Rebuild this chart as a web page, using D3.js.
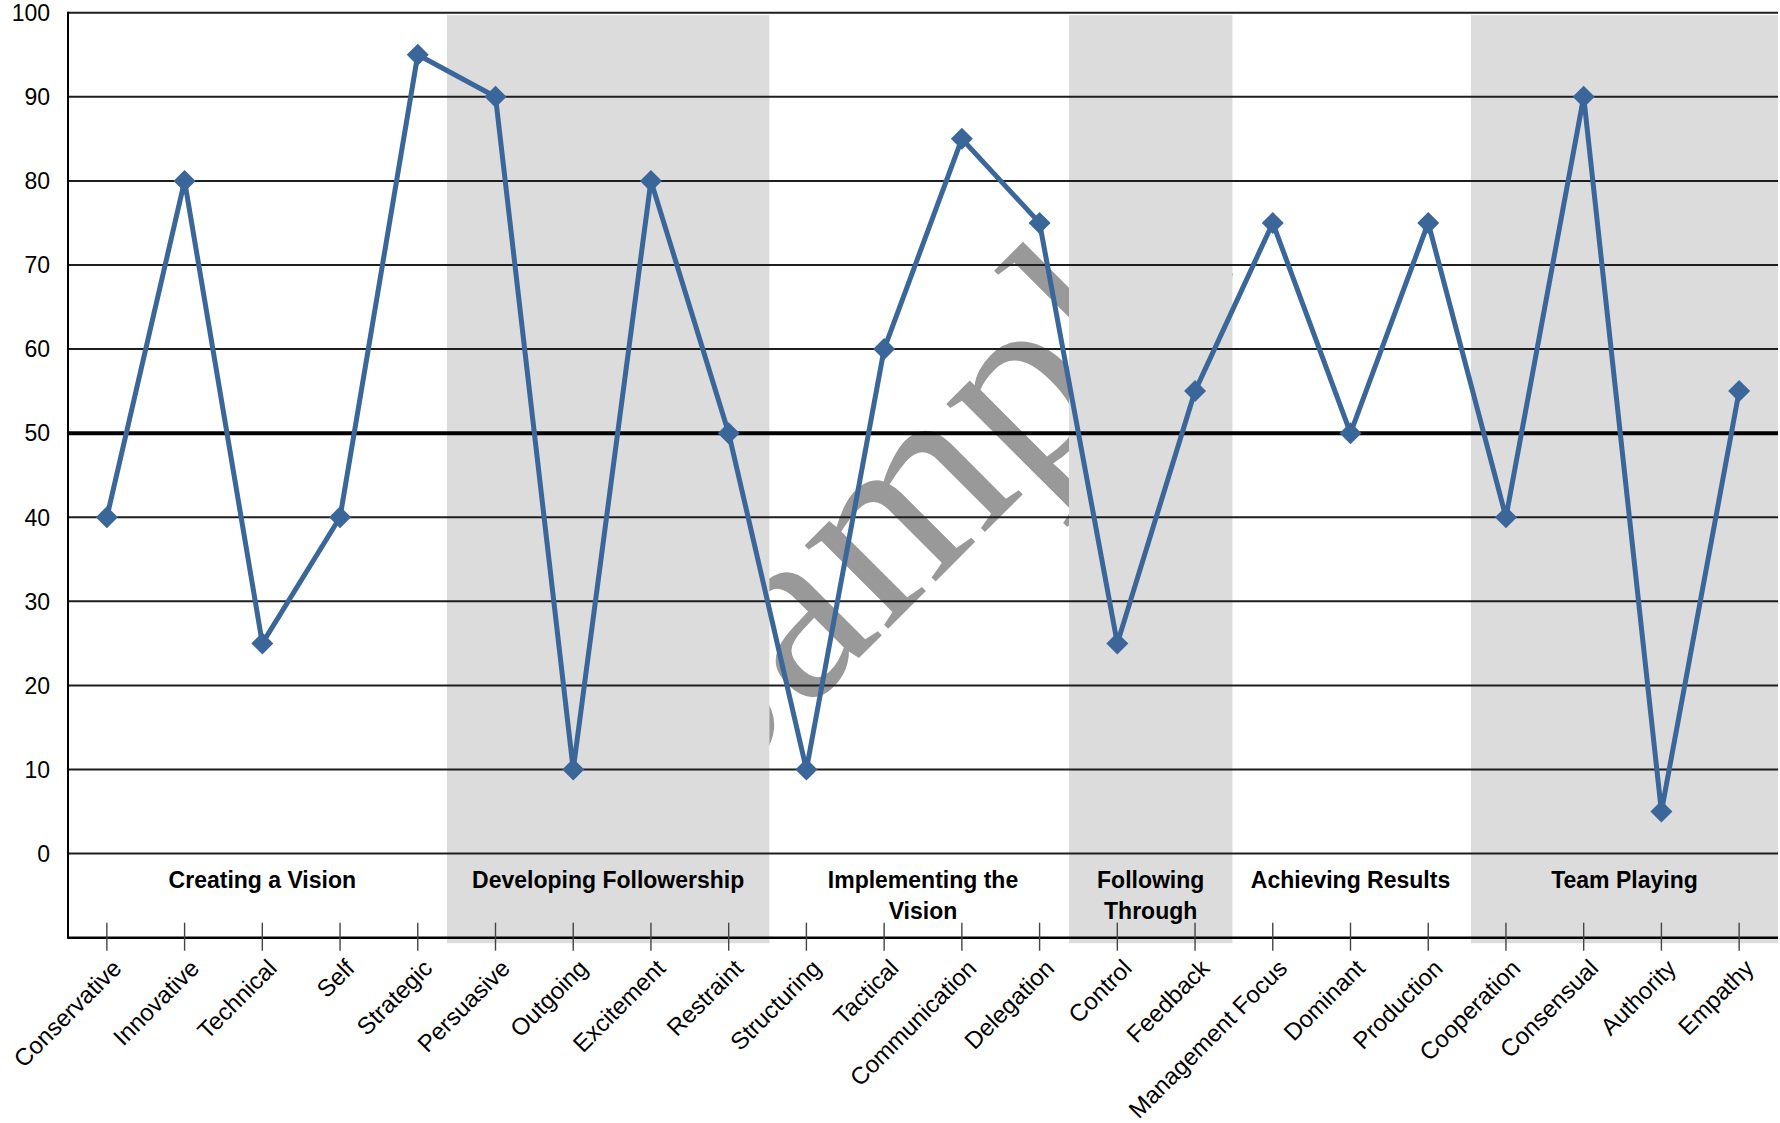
<!DOCTYPE html>
<html>
<head>
<meta charset="utf-8">
<script src="https://cdn.jsdelivr.net/npm/d3@7"></script>
<style>
  body { margin: 0; background: #fff; }
  svg { display: block; font-family: "Liberation Sans", Arial, sans-serif; }
</style>
</head>
<body>
<svg id="chart" width="1780" height="1123"></svg>
<script>
// data
const categories = ["Conservative", "Innovative", "Technical", "Self", "Strategic",
  "Persuasive", "Outgoing", "Excitement", "Restraint",
  "Structuring", "Tactical", "Communication", "Delegation",
  "Control", "Feedback",
  "Management Focus", "Dominant", "Production",
  "Cooperation", "Consensual", "Authority", "Empathy"];
const scores = [40, 80, 25, 40, 95, 90, 10, 80, 50, 10, 60, 85, 75, 25, 55, 75, 50, 75, 40, 90, 5, 55];
const groupLabels = [["Creating a Vision"], ["Developing Followership"], ["Implementing the", "Vision"],
  ["Following", "Through"], ["Achieving Results"], ["Team Playing"]];
const groupSizes = [5, 4, 4, 2, 3, 4];
const yTicks = [0, 10, 20, 30, 40, 50, 60, 70, 80, 90, 100];
const midline = 50;

const svg = d3.select("#chart");
const mLeft = 68, mRight = 1778, mTop = 12.7, mBottom = 937.7;

const x = d3.scaleBand().domain(categories).range([mLeft, mRight]);
const y = d3.scaleLinear().domain([-10, 100]).range([mBottom, mTop]);
const cx = d => x(d) + x.bandwidth() / 2;
// category index -> pixel (for the hand-drawn shading edges)
const xi = d3.scaleLinear().domain([-0.5, categories.length - 0.5]).range([mLeft, mRight]);

// shaded boxes were drawn by hand, edges sit a bit off the category boundaries
const shadeEdges = { 1: [4.375, 8.524], 3: [12.378, 14.481], 5: [17.549, 21.5] };

let acc = 0;
const groups = groupSizes.map((n, i) => {
  const g = { i, from: acc, to: acc + n - 1, lines: groupLabels[i] };
  acc += n;
  return g;
});
const gMid = g => shadeEdges[g.i]
  ? (xi(shadeEdges[g.i][0]) + xi(shadeEdges[g.i][1])) / 2
  : (cx(categories[g.from]) + cx(categories[g.to])) / 2;

// watermark (sits under the shaded bands)
svg.append("text")
    .attr("transform", "translate(702.6,814.4) rotate(-45)")
    .attr("font-family", "'Liberation Serif', 'Times New Roman', serif")
    .attr("font-size", 257)
    .attr("fill", "#999")
    .text("Sample");

// shaded bands on every other group
svg.append("g")
  .selectAll("rect")
  .data(groups.filter(g => shadeEdges[g.i]))
  .enter().append("rect")
    .attr("x", g => xi(shadeEdges[g.i][0]))
    .attr("y", mTop + 2.5)
    .attr("width", g => xi(shadeEdges[g.i][1]) - xi(shadeEdges[g.i][0]))
    .attr("height", mBottom + 5.5 - mTop - 2.5)
    .attr("fill", "#dcdcdc");

// gridlines
svg.append("g")
  .selectAll("line")
  .data(yTicks)
  .enter().append("line")
    .attr("x1", mLeft).attr("x2", mRight)
    .attr("y1", d => y(d)).attr("y2", d => y(d))
    .attr("stroke", d => d === midline ? "#000" : "#1e1e1e")
    .attr("stroke-width", d => d === midline ? 4 : 2);

// y labels
svg.append("g")
  .selectAll("text")
  .data(yTicks)
  .enter().append("text")
    .attr("x", 50)
    .attr("y", d => y(d))
    .attr("dy", "0.36em")
    .attr("text-anchor", "end")
    .attr("font-size", 23)
    .attr("fill", "#000")
    .text(d => d);

// axes lines
svg.append("line")
    .attr("x1", mLeft).attr("x2", mLeft)
    .attr("y1", mTop - 1).attr("y2", mBottom + 1)
    .attr("stroke", "#000").attr("stroke-width", 2);
svg.append("line")
    .attr("x1", mLeft).attr("x2", mRight)
    .attr("y1", mBottom).attr("y2", mBottom)
    .attr("stroke", "#000").attr("stroke-width", 2.5);

// x ticks
svg.append("g")
  .selectAll("line")
  .data(categories)
  .enter().append("line")
    .attr("x1", d => cx(d)).attr("x2", d => cx(d))
    .attr("y1", mBottom - 15).attr("y2", mBottom + 13)
    .attr("stroke", "#444").attr("stroke-width", 1.4);

// x labels
svg.append("g")
  .selectAll("text")
  .data(categories)
  .enter().append("text")
    .attr("transform", d => `translate(${cx(d) + 16},${mBottom + 32}) rotate(-45)`)
    .attr("text-anchor", "end")
    .attr("font-size", 24)
    .attr("fill", "#000")
    .text(d => d);

// group labels
svg.append("g")
  .selectAll("text")
  .data(groups)
  .enter().append("text")
    .attr("text-anchor", "middle")
    .attr("font-size", 23)
    .attr("font-weight", "bold")
    .attr("fill", "#000")
    .attr("x", gMid)
    .attr("y", 880)
  .selectAll("tspan")
  .data(g => g.lines.map(t => ({ t, x: gMid(g) })))
  .enter().append("tspan")
    .attr("x", d => d.x)
    .attr("dy", (d, i) => i === 0 ? "0.36em" : 31)
    .text(d => d.t);

// series line
const pts = categories.map((c, i) => ({ c, v: scores[i] }));
svg.append("path")
    .datum(pts)
    .attr("fill", "none")
    .attr("stroke", "#3a6699")
    .attr("stroke-width", 5)
    .attr("stroke-linejoin", "round")
    .attr("d", d3.line().x(d => cx(d.c)).y(d => y(d.v)));

svg.append("g")
  .selectAll("path")
  .data(pts)
  .enter().append("path")
    .attr("transform", d => `translate(${cx(d.c)},${y(d.v)}) rotate(45)`)
    .attr("d", d3.symbol(d3.symbolSquare, 242))
    .attr("fill", "#3a6699");
</script>
</body>
</html>
